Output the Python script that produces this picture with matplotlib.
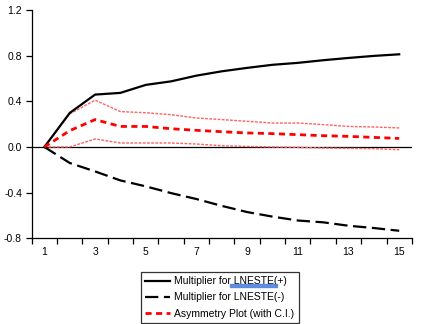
import matplotlib
matplotlib.use('Agg')
import matplotlib.pyplot as plt
from matplotlib.patches import Rectangle

plt.rcParams['font.family'] = ['Liberation Sans', 'DejaVu Sans']

# horizon (periods)
periods = list(range(1, 16))

# cumulative dynamic multipliers
mult_pos = [0.0, 0.298, 0.459, 0.474, 0.544, 0.575, 0.625, 0.663, 0.693, 0.72,
            0.737, 0.76, 0.78, 0.798, 0.812]
mult_neg = [0.0, -0.14, -0.214, -0.293, -0.345, -0.404, -0.456, -0.516, -0.57, -0.61,
            -0.644, -0.66, -0.69, -0.71, -0.734]
asym = [0.0, 0.143, 0.24, 0.18, 0.18, 0.16, 0.146, 0.134, 0.123, 0.117,
        0.108, 0.099, 0.093, 0.084, 0.075]
asym_upper = [0.0, 0.29, 0.41, 0.31, 0.30, 0.283, 0.254, 0.24, 0.225, 0.21,
              0.21, 0.196, 0.18, 0.175, 0.167]
asym_lower = [0.0, 0.0, 0.07, 0.035, 0.035, 0.035, 0.026, 0.011, 0.005, 0.0,
              -0.003, -0.009, -0.012, -0.015, -0.024]

yticks = [-0.8, -0.4, 0.0, 0.4, 0.8, 1.2]
ytick_labels = ['-0.8', '-0.4', '0.0', '0.4', '0.8', '1.2']
xticks_lab = [1, 3, 5, 7, 9, 11, 13, 15]

fs = 7.5

fig = plt.figure(figsize=(4.21, 3.24), dpi=100)
ax = fig.add_axes([0.0753, 0.2645, 0.903, 0.7046])

ax.axhline(0, color='black', lw=0.9, zorder=1)

ax.plot(periods, asym_upper, color='#ff6060', lw=1.0, dashes=(2, 1), zorder=2)
ax.plot(periods, asym_lower, color='#ff6060', lw=1.0, dashes=(2, 1), zorder=2)
l1, = ax.plot(periods, mult_pos, color='black', lw=1.6, zorder=3,
              label='Multiplier for LNESTE(+)')
l2, = ax.plot(periods, mult_neg, color='black', lw=1.6, dashes=(6, 2.5), zorder=3,
              label='Multiplier for LNESTE(-)')
l3, = ax.plot(periods, asym, color='#ff0000', lw=2.0, dashes=(2.2, 1.6), zorder=3,
              label='Asymmetry Plot (with C.I.)')

ax.set_xlim(0.5, 15.5)
ax.set_ylim(-0.8, 1.2)

ax.spines['top'].set_visible(False)
ax.spines['right'].set_visible(False)
ax.spines['left'].set_linewidth(0.9)
ax.spines['bottom'].set_linewidth(0.9)

ax.set_yticks(yticks)
ax.set_yticklabels(ytick_labels)
# ticks sit between observations, labels on odd periods
ax.set_xticks([p + 0.5 for p in range(0, 16)])
ax.set_xticklabels([])
ax.set_xticks(xticks_lab, minor=True)
ax.set_xticklabels([str(v) for v in xticks_lab], minor=True)
ax.tick_params(axis='x', which='minor', length=0, pad=6, labelsize=fs)
ax.tick_params(axis='x', which='major', length=4, width=0.9, direction='out')
ax.tick_params(axis='y', length=4, width=0.9, direction='out', labelsize=fs, pad=3)

leg = fig.legend(handles=[l1, l2, l3], loc='upper left',
                 bbox_to_anchor=(141 / 421, 1 - 272 / 324),
                 fontsize=fs, frameon=True, fancybox=False, edgecolor='black',
                 borderpad=0.4, labelspacing=0.6, handlelength=2.4,
                 handletextpad=0.4, borderaxespad=0)
leg.get_frame().set_linewidth(0.9)

# selection highlight under "LNESTE" in the first entry
hl = Rectangle((230 / 421, 1 - 287 / 324), 47 / 421, 3 / 324,
               transform=fig.transFigure, color='#4a7fd8', alpha=0.85, zorder=6)
fig.add_artist(hl)

fig.savefig('out.png', dpi=100)
